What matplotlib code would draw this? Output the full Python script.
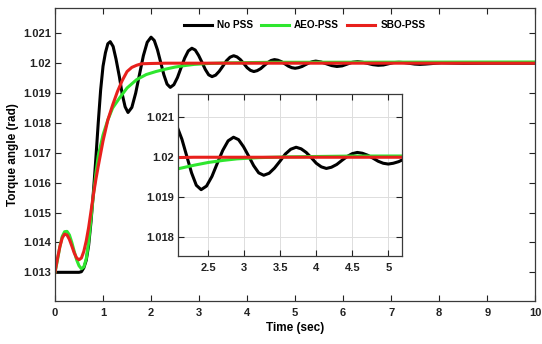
import numpy as np
import matplotlib
matplotlib.use('Agg')
import matplotlib.pyplot as plt
from matplotlib.ticker import FormatStrFormatter

# values (time in s, torque angle in rad)
t_nopss = [0.0, 0.5, 0.55, 0.6, 0.65, 0.7, 0.75, 0.8, 0.85, 0.9, 0.95, 1.0, 1.05, 1.1, 1.15,
           1.21, 1.27, 1.34, 1.40, 1.46, 1.52,
           1.60, 1.68, 1.76, 1.84, 1.92, 2.0,
           2.067, 2.133, 2.2, 2.267, 2.333, 2.4,
           2.475, 2.55, 2.625, 2.7, 2.775, 2.85,
           2.92, 2.99, 3.06, 3.13, 3.20, 3.27,
           3.345, 3.42, 3.495, 3.57, 3.645, 3.72,
           3.79, 3.86, 3.93, 4.0, 4.07, 4.14,
           4.21, 4.285, 4.355, 4.43, 4.50, 4.57,
           4.64, 4.715, 4.785, 4.86, 4.93, 5.0,
           5.07, 5.145, 5.215, 5.29, 5.36, 5.43,
           5.54, 5.65, 5.76, 5.87,
           5.98, 6.085, 6.19, 6.3,
           6.41, 6.515, 6.62, 6.73,
           6.84, 6.945, 7.05, 7.16,
           7.27, 7.38, 7.49, 7.6,
           7.71, 7.83, 7.94, 8.05, 8.5, 9.0, 10.0]
y_nopss = [1.013, 1.013, 1.01302, 1.01315, 1.0134, 1.0139, 1.0147, 1.0157, 1.0168, 1.0180, 1.0191,
           1.0199, 1.02035, 1.02065, 1.02072,
           1.02056, 1.02014, 1.01955, 1.01896, 1.01854, 1.01835,
           1.01852, 1.01900, 1.01963, 1.02025, 1.02070, 1.02087,
           1.02076, 1.02045, 1.02003, 1.01961, 1.01930, 1.01919,
           1.01928, 1.01952, 1.01985, 1.02017, 1.02041, 1.02050,
           1.02044, 1.02026, 1.02003, 1.01979, 1.01961, 1.01955,
           1.01960, 1.01973, 1.01990, 1.02008, 1.02020, 1.02025,
           1.02021, 1.02012, 1.01999, 1.01985, 1.01976, 1.01972,
           1.01975, 1.01982, 1.01992, 1.02002, 1.02009, 1.02012,
           1.02010, 1.02005, 1.01998, 1.01990, 1.01985, 1.01983,
           1.01985, 1.01989, 1.01995, 1.02001, 1.02005, 1.02007,
           1.02004, 1.01998, 1.01992, 1.01989,
           1.01991, 1.01997, 1.02003, 1.02005,
           1.02003, 1.01999, 1.01995, 1.01993,
           1.01994, 1.01998, 1.02002, 1.02003,
           1.02002, 1.019995, 1.01997, 1.01996,
           1.01997, 1.019985, 1.02, 1.02001, 1.019995, 1.02, 1.02]

t_aeo = [0.0, 0.05, 0.1, 0.15, 0.2, 0.25, 0.3, 0.35, 0.4, 0.45, 0.5, 0.55, 0.6, 0.65, 0.7,
         0.75, 0.8, 0.85, 0.9, 1.0, 1.1, 1.2, 1.35, 1.5, 1.7, 1.9, 2.1, 2.3, 2.5, 2.7, 2.9,
         3.2, 3.6, 4.5, 10.0]
y_aeo = [1.013, 1.0134, 1.01385, 1.0142, 1.01436, 1.01437, 1.01425, 1.014, 1.0137, 1.01342,
         1.01322, 1.01312, 1.01318, 1.01345, 1.014, 1.0148, 1.0156, 1.0163, 1.0169, 1.0176,
         1.0181, 1.0185, 1.01885, 1.01917, 1.01945, 1.01962, 1.01972, 1.0198, 1.01987,
         1.01992, 1.01996, 1.01999, 1.02001, 1.02003, 1.02004]

t_sbo = [0.0, 0.05, 0.1, 0.15, 0.2, 0.25, 0.3, 0.35, 0.4, 0.45, 0.5, 0.55, 0.6, 0.65, 0.7,
         0.75, 0.8, 0.85, 0.9, 1.0, 1.1, 1.2, 1.3, 1.4, 1.5, 1.6, 1.7, 1.8, 2.0, 2.3, 10.0]
y_sbo = [1.013, 1.01345, 1.01385, 1.01415, 1.01428, 1.01425, 1.0141, 1.01388, 1.01365,
         1.01348, 1.01342, 1.01348, 1.0137, 1.01405, 1.0145, 1.01505, 1.0156, 1.0161, 1.01655,
         1.0174, 1.0181, 1.0186, 1.01905, 1.01942, 1.01972, 1.01986, 1.01993, 1.01998,
         1.01999, 1.02, 1.02]

series = [('No PSS', t_nopss, y_nopss, '#000000'),
          ('AEO-PSS', t_aeo, y_aeo, '#2ee62e'),
          ('SBO-PSS', t_sbo, y_sbo, '#e8201c')]

main_xticks = list(range(0, 11))
main_yticks = [1.013, 1.014, 1.015, 1.016, 1.017, 1.018, 1.019, 1.02, 1.021]
inset_xticks = [2.5, 3, 3.5, 4, 4.5, 5]
inset_yticks = [1.018, 1.019, 1.02, 1.021]

plt.rcParams['font.family'] = ['Liberation Sans', 'DejaVu Sans']
plt.rcParams['font.weight'] = 'bold'

fig = plt.figure(figsize=(5.42, 3.44), dpi=100)
ax = fig.add_axes([0.1015, 0.125, 0.886, 0.852])


def style(a, fs):
    a.tick_params(direction='in', top=True, right=True, length=4, width=0.8,
                  labelsize=fs, colors='#222222', pad=5)
    a.tick_params(axis='y', pad=3)
    for s in a.spines.values():
        s.set_color('#3a3a3a')
        s.set_linewidth(0.9)
    for lab in a.get_xticklabels() + a.get_yticklabels():
        lab.set_fontweight('bold')
    a.xaxis.set_major_formatter(FormatStrFormatter('%g'))
    a.yaxis.set_major_formatter(FormatStrFormatter('%g'))


for name, t, y, c in series:
    ax.plot(t, y, color=c, lw=2.2, label=name)
ax.set_xlim(0, 10)
ax.set_ylim(1.01204, 1.02185)
ax.set_xticks(main_xticks)
ax.set_yticks(main_yticks)
style(ax, 8)
ax.set_xlabel('Time (sec)', fontsize=8.5, fontweight='bold', labelpad=3)
ax.set_ylabel('Torque angle (rad)', fontsize=8.5, fontweight='bold', labelpad=3)
ax.legend(loc='center', bbox_to_anchor=(0.52, 0.94), ncol=3, frameon=False,
          handlelength=2.8, handletextpad=0.5, columnspacing=0.8,
          prop={'weight': 'bold', 'size': 7.2})

ins = fig.add_axes([0.329, 0.2567, 0.412, 0.47])
for name, t, y, c in series:
    ins.plot(t, y, color=c, lw=2.2)
ins.set_xlim(2.083, 5.186)
ins.set_ylim(1.01754, 1.02158)
ins.set_xticks(inset_xticks)
ins.set_yticks(inset_yticks)
ins.grid(True, color='#dddddd', linewidth=0.7)
style(ins, 8)

fig.savefig('out.png', dpi=100, facecolor='white')
